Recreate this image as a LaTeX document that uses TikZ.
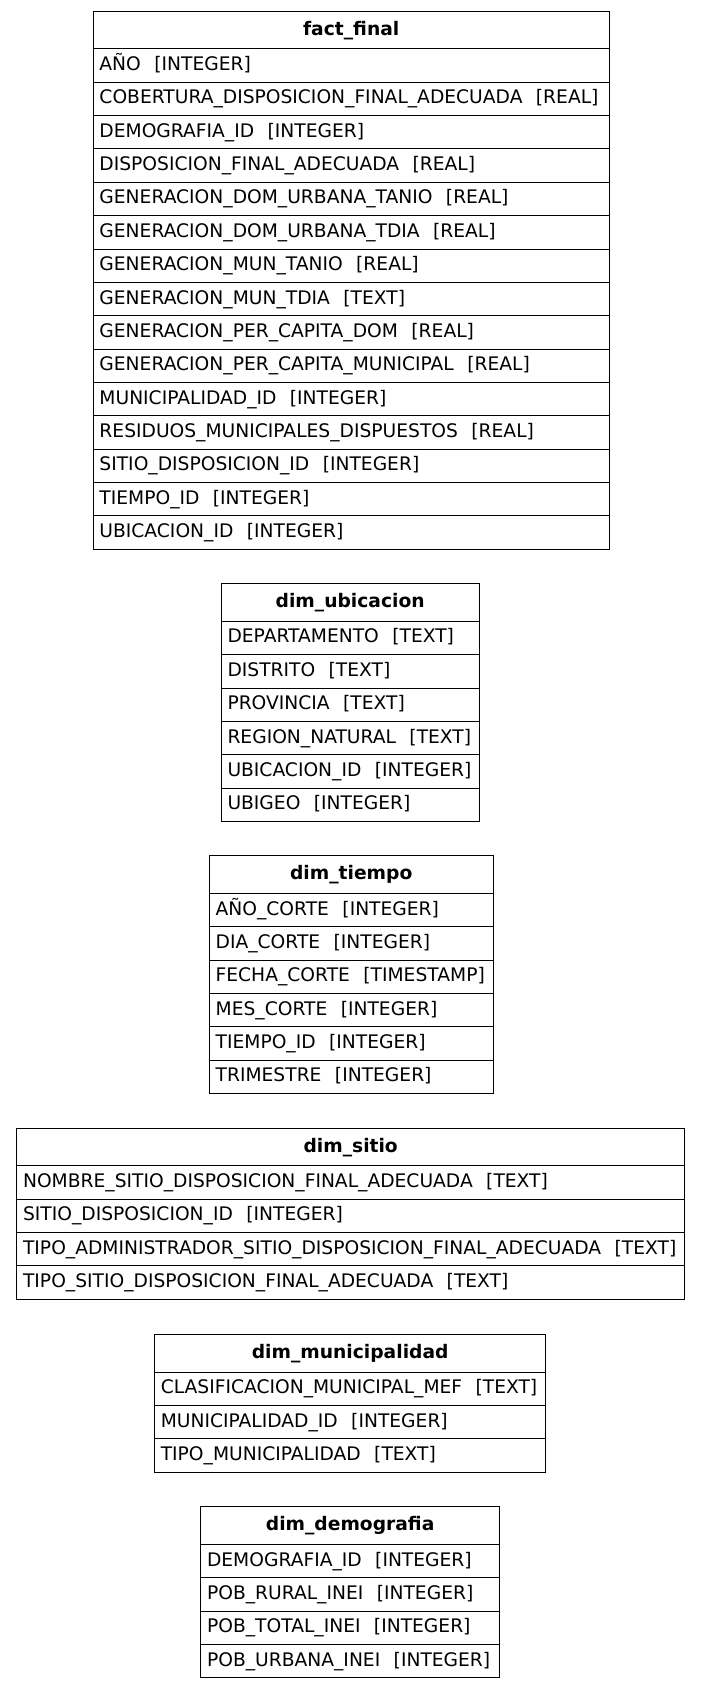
\documentclass[tikz,border=0pt]{standalone}
\usepackage{fontspec}
\setmainfont{DejaVu Sans}
\newcommand\gap{\hspace{0.72em}}
\tikzset{
  tbl/.style={draw=black, line width=0.9pt, rectangle, inner xsep=6pt, inner ysep=0pt,
    text height=13pt, text depth=3.7pt,
    font=\fontsize{17.36}{20}\selectfont},
  hdrbox/.style={tbl, minimum height=35pt, text height=13.6pt, text depth=3.7pt,
    font=\fontsize{17.36}{20}\selectfont\bfseries, align=center},
  rowbox/.style={tbl, minimum height=31pt, align=left},
}
% one entity table: id, left, right, top, title, field list
\newcommand\ertable[6]{%
  \pgfmathsetmacro\tw{#3-#2}%
  \pgfmathsetmacro\txw{#3-#2-12}%
  \node[hdrbox, minimum width=\tw pt, text width=\txw pt, anchor=north west] (#1) at (#2,#4) {#5};
  \foreach \r [count=\i] in {#6} {
    \pgfmathsetmacro\ry{#4+35+31*(\i-1)}
    \node[rowbox, minimum width=\tw pt, text width=\txw pt, anchor=north west] (#1-\i) at (#2,\ry) {\mbox{\r}\hfill};
  }
}
\begin{document}
\begin{tikzpicture}[x=1pt, y=-1pt]
\useasboundingbox (0,0) rectangle (651,1568);

\ertable{fact}{86}{566}{10}{fact\_final}{%
  AÑO\gap[INTEGER],
  COBERTURA\_DISPOSICION\_FINAL\_ADECUADA\gap[REAL],
  DEMOGRAFIA\_ID\gap[INTEGER],
  DISPOSICION\_FINAL\_ADECUADA\gap[REAL],
  GENERACION\_DOM\_URBANA\_TANIO\gap[REAL],
  GENERACION\_DOM\_URBANA\_TDIA\gap[REAL],
  GENERACION\_MUN\_TANIO\gap[REAL],
  GENERACION\_MUN\_TDIA\gap[TEXT],
  GENERACION\_PER\_CAPITA\_DOM\gap[REAL],
  GENERACION\_PER\_CAPITA\_MUNICIPAL\gap[REAL],
  MUNICIPALIDAD\_ID\gap[INTEGER],
  RESIDUOS\_MUNICIPALES\_DISPUESTOS\gap[REAL],
  SITIO\_DISPOSICION\_ID\gap[INTEGER],
  TIEMPO\_ID\gap[INTEGER],
  UBICACION\_ID\gap[INTEGER]}

\ertable{ubic}{205}{445}{542}{dim\_ubicacion}{%
  DEPARTAMENTO\gap[TEXT],
  DISTRITO\gap[TEXT],
  PROVINCIA\gap[TEXT],
  REGION\_NATURAL\gap[TEXT],
  UBICACION\_ID\gap[INTEGER],
  UBIGEO\gap[INTEGER]}

\ertable{tiempo}{194}{458}{795}{dim\_tiempo}{%
  AÑO\_CORTE\gap[INTEGER],
  DIA\_CORTE\gap[INTEGER],
  FECHA\_CORTE\gap[TIMESTAMP],
  MES\_CORTE\gap[INTEGER],
  TIEMPO\_ID\gap[INTEGER],
  TRIMESTRE\gap[INTEGER]}

\ertable{sitio}{15}{636}{1048}{dim\_sitio}{%
  NOMBRE\_SITIO\_DISPOSICION\_FINAL\_ADECUADA\gap[TEXT],
  SITIO\_DISPOSICION\_ID\gap[INTEGER],
  TIPO\_ADMINISTRADOR\_SITIO\_DISPOSICION\_FINAL\_ADECUADA\gap[TEXT],
  TIPO\_SITIO\_DISPOSICION\_FINAL\_ADECUADA\gap[TEXT]}

\ertable{muni}{143}{507}{1240}{dim\_municipalidad}{%
  CLASIFICACION\_MUNICIPAL\_MEF\gap[TEXT],
  MUNICIPALIDAD\_ID\gap[INTEGER],
  TIPO\_MUNICIPALIDAD\gap[TEXT]}

\ertable{demo}{186}{464}{1400}{dim\_demografia}{%
  DEMOGRAFIA\_ID\gap[INTEGER],
  POB\_RURAL\_INEI\gap[INTEGER],
  POB\_TOTAL\_INEI\gap[INTEGER],
  POB\_URBANA\_INEI\gap[INTEGER]}
\end{tikzpicture}
\end{document}
